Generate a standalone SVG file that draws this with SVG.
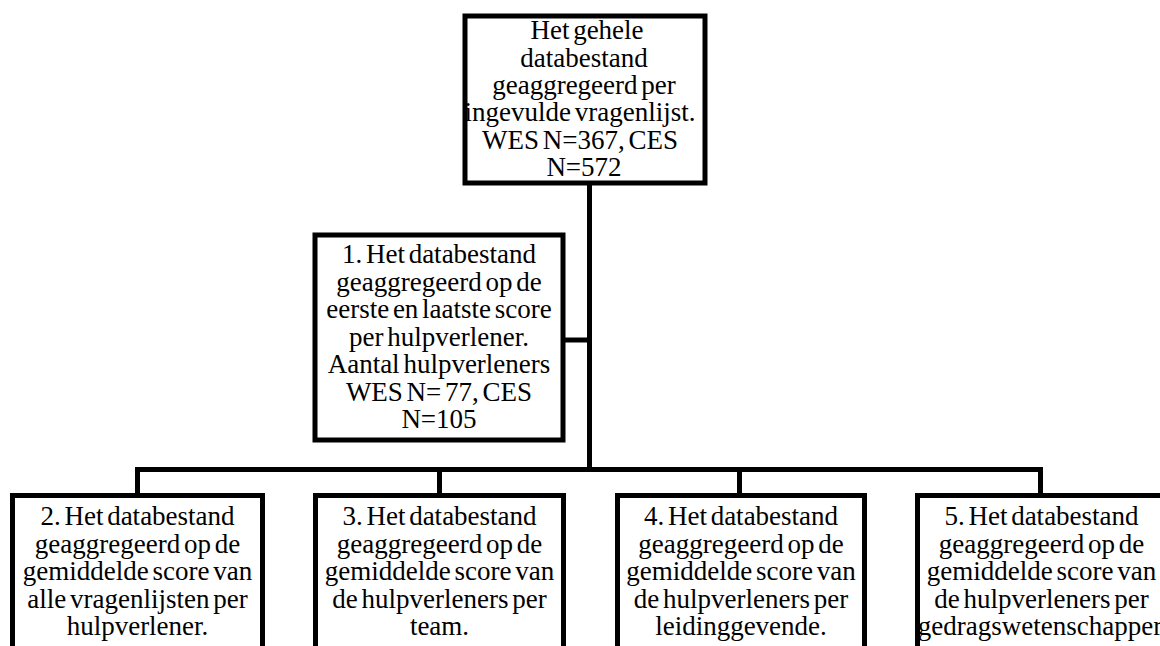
<svg xmlns="http://www.w3.org/2000/svg" width="1160" height="646" viewBox="0 0 1160 646">
<style>
.box{fill:#fff;stroke:#000;stroke-width:5}
.ln{fill:none;stroke:#000;stroke-width:5;stroke-linecap:square}
.t text{font-size:27px;fill:#000;text-anchor:middle;word-spacing:-3px}
</style>
<rect width="1160" height="646" fill="#fff"/>
<g id="connectors">
<path class="ln" d="M589.5,183 V469.5"/>
<path class="ln" d="M563,340 H589.5"/>
<path class="ln" d="M137.5,469.5 H1040.5"/>
<path class="ln" d="M137.5,469.5 V495"/>
<path class="ln" d="M439.5,469.5 V495"/>
<path class="ln" d="M739.5,469.5 V495"/>
<path class="ln" d="M1040.5,469.5 V495"/>
</g>
<g id="node-top" class="t" font-family="Liberation Serif, DejaVu Serif, serif">
<rect class="box" x="465" y="16" width="240" height="167"/>
<text x="587" y="39">Het gehele</text>
<text x="584" y="66.5">databestand</text>
<text x="584" y="94">geaggregeerd per</text>
<text x="580" y="121">ingevulde vragenlijst.</text>
<text x="580" y="148.5">WES N=367, CES</text>
<text x="584" y="176">N=572</text>
</g>
<g id="node-1" class="t" font-family="Liberation Serif, DejaVu Serif, serif">
<rect class="box" x="315" y="235" width="248" height="205"/>
<text x="439" y="263">1. Het databestand</text>
<text x="439" y="290.5">geaggregeerd op de</text>
<text x="439" y="318">eerste en laatste score</text>
<text x="439" y="345.5">per hulpverlener.</text>
<text x="439" y="373">Aantal hulpverleners</text>
<text x="439" y="400.5">WES N= 77, CES</text>
<text x="439" y="428">N=105</text>
</g>
<g id="node-2" class="t" font-family="Liberation Serif, DejaVu Serif, serif">
<rect class="box" x="12.5" y="495.5" width="250" height="220"/>
<text x="137.5" y="525">2. Het databestand</text>
<text x="137.5" y="552.5">geaggregeerd op de</text>
<text x="137.5" y="580">gemiddelde score van</text>
<text x="137.5" y="607.5">alle vragenlijsten per</text>
<text x="137.5" y="635">hulpverlener.</text>
</g>
<g id="node-3" class="t" font-family="Liberation Serif, DejaVu Serif, serif">
<rect class="box" x="315.5" y="495.5" width="248" height="220"/>
<text x="439.5" y="525">3. Het databestand</text>
<text x="439.5" y="552.5">geaggregeerd op de</text>
<text x="439.5" y="580">gemiddelde score van</text>
<text x="439.5" y="607.5">de hulpverleners per</text>
<text x="439.5" y="635">team.</text>
</g>
<g id="node-4" class="t" font-family="Liberation Serif, DejaVu Serif, serif">
<rect class="box" x="617.5" y="495.5" width="247" height="220"/>
<text x="741" y="525">4. Het databestand</text>
<text x="741" y="552.5">geaggregeerd op de</text>
<text x="741" y="580">gemiddelde score van</text>
<text x="741" y="607.5">de hulpverleners per</text>
<text x="741" y="635">leidinggevende.</text>
</g>
<g id="node-5" class="t" font-family="Liberation Serif, DejaVu Serif, serif">
<rect class="box" x="917.5" y="495.5" width="248" height="220"/>
<text x="1041.5" y="525">5. Het databestand</text>
<text x="1041.5" y="552.5">geaggregeerd op de</text>
<text x="1041.5" y="580">gemiddelde score van</text>
<text x="1041.5" y="607.5">de hulpverleners per</text>
<text x="1040" y="635">gedragswetenschapper</text>
</g>
</svg>
